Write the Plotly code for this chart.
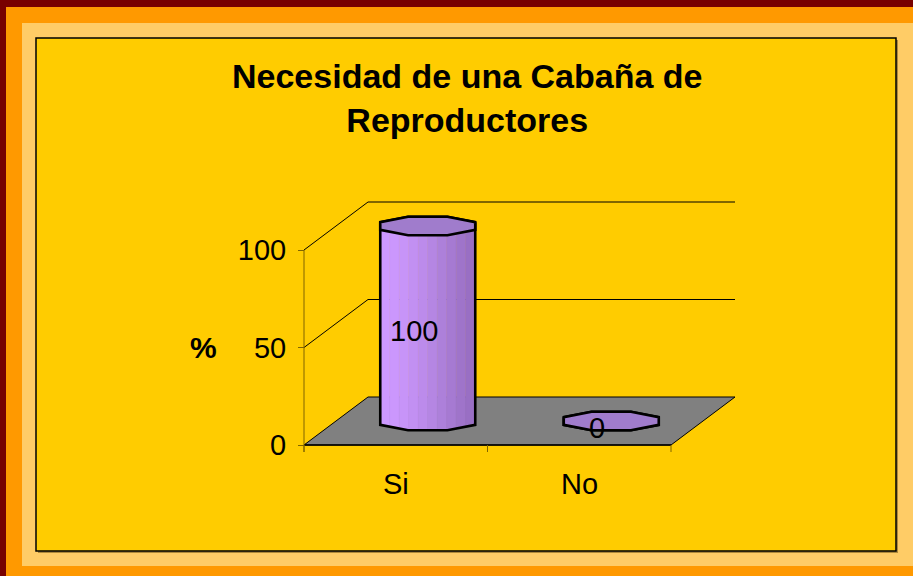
import numpy as np
import plotly.graph_objects as go

# ---------------- data ----------------
categories = ["Si", "No"]
values = [100, 0]
y_ticks = [0, 50, 100]
y_tick_labels = ["0", "50", "100"]
grid_values = [50, 100]
title_lines = ["Necesidad de una Cabaña de", "Reproductores"]
y_title = "%"

# ---------------- geometry / style ----------------
W, H = 913, 576
X0_PX, Y0_PX = 304, 445          # pixel of (0, 0) on the front plane
PX_PER_CAT = 183.5               # pixels per category unit
PX_PER_VAL = 1.95                # pixels per value unit
X_RANGE = [-X0_PX / PX_PER_CAT, (W - X0_PX) / PX_PER_CAT]
Y_RANGE = [-(H - Y0_PX) / PX_PER_VAL, Y0_PX / PX_PER_VAL]

DX = 64 / PX_PER_CAT             # oblique depth offset
DY = 48 / PX_PER_VAL
NCAT = len(categories)

BW = 47.5 / PX_PER_CAT           # cylinder half width
C225 = np.cos(np.radians(22.5))
CAP_A = BW / C225
CAP_B = 9.2 / C225 / PX_PER_VAL

FONT = "Arial, Liberation Sans, sans-serif"
AXIS_COL = "#806400"
FLOOR_COL = "#808080"
CAP_COL = "#A07CCC"
STRIP_COLS = [(205, 153, 255), (203, 151, 253), (199, 148, 248), (194, 144, 242),
              (188, 139, 235), (181, 134, 227), (173, 128, 218), (166, 122, 210),
              (159, 116, 202), (153, 111, 196)]

fig = go.Figure()


def poly(xs, ys, fill=None, line_col="black", width=1.0):
    fig.add_trace(go.Scatter(
        x=list(xs), y=list(ys), mode="lines",
        fill="toself" if fill else None, fillcolor=fill,
        line=dict(color=line_col, width=width),
        hoverinfo="skip", showlegend=False))


# floor
fx = [0, NCAT, NCAT + DX, DX, 0]
fy = [0, 0, DY, DY, 0]
poly(fx, fy, fill=FLOOR_COL, line_col="black", width=1)
poly([0, NCAT], [0, 0], line_col="black", width=1.6)

# back-wall gridlines
for g in grid_values:
    poly([0, DX, NCAT + DX], [g, g + DY, g + DY], line_col="black", width=1)

# y axis line
poly([0, 0], [max(y_ticks), -7 / PX_PER_VAL], line_col=AXIS_COL, width=1)
# x tick marks at category boundaries
for b in range(NCAT + 1):
    poly([b, b], [0, -7 / PX_PER_VAL], line_col=AXIS_COL, width=1)


def octagon(cx, cy, angles):
    th = np.radians(angles)
    return cx + CAP_A * np.cos(th), cy + CAP_B * np.sin(th)


# cylinders
for i, (cat, v) in enumerate(zip(categories, values)):
    cx = i + 0.5 + DX / 2
    yb = DY / 2
    yt = v + DY / 2
    fxb, fyb = octagon(cx, yb, [202.5, 247.5, 292.5, 337.5])
    edges = np.linspace(cx - BW, cx + BW, len(STRIP_COLS) + 1)
    for j, col in enumerate(STRIP_COLS):
        xl, xr = edges[j], edges[j + 1]
        inner = [x for x in fxb if xl < x < xr]
        bx = [xr] + sorted(inner, reverse=True) + [xl]
        by = [float(np.interp(x, fxb, fyb)) for x in bx]
        c = "rgb(%d,%d,%d)" % col
        poly([xl, xr] + bx + [xl], [yt, yt] + by + [yt], fill=c, line_col=c, width=0.6)
    tx1, ty1 = octagon(cx, yt, [157.5])
    bx2, by2 = octagon(cx, yb, [202.5, 247.5, 292.5, 337.5])
    tx3, ty3 = octagon(cx, yt, [22.5, 67.5, 112.5, 157.5])
    sx = list(tx1) + list(bx2) + list(tx3)
    sy = list(ty1) + list(by2) + list(ty3)
    poly(sx, sy, line_col="black", width=2.6)
    cxs, cys = octagon(cx, yt, [22.5 + 45 * k for k in range(9)])
    poly(cxs, cys, fill=CAP_COL, line_col="black", width=2.6)

annotations = []
for i, v in enumerate(values):
    annotations.append(dict(
        x=i + 0.5 + 0.28 * DX, y=v / 2 + 0.35 * DY, xref="x", yref="y",
        text=str(v), showarrow=False, font=dict(family=FONT, size=29, color="black"),
        xanchor="center", yanchor="middle"))
for i, cat in enumerate(categories):
    annotations.append(dict(
        x=i + 0.5, y=-39 / PX_PER_VAL, xref="x", yref="y", text=cat, showarrow=False,
        font=dict(family=FONT, size=29, color="black"), xanchor="center", yanchor="middle"))
annotations.append(dict(
    x=-101 / PX_PER_CAT, y=50, xref="x", yref="y", text="<b>%s</b>" % y_title,
    showarrow=False, font=dict(family=FONT, size=30, color="black"),
    xanchor="center", yanchor="middle"))
annotations.append(dict(
    x=468 / W, y=1 - 98 / H, xref="paper", yref="paper",
    text="<b>" + "<br>".join(title_lines) + "</b>", showarrow=False,
    font=dict(family=FONT, size=34, color="black"), xanchor="center", yanchor="middle",
    align="center"))


def prect(x0, y0, x1, y1, fill, line=None, lw=0):
    return dict(type="rect", xref="paper", yref="paper",
                x0=x0 / W, x1=x1 / W, y0=1 - y1 / H, y1=1 - y0 / H,
                fillcolor=fill, line=dict(color=line or fill, width=lw), layer="below")


shapes = [
    prect(6, 7, W + 5, H + 5, "#FF9900"),
    prect(22, 23, W + 5, 566, "#FFCC66"),
    prect(38, 40, 898, 553, "#B08A3A"),
    prect(36, 38, 896, 551, "#FFCC00", "black", 1.5),
]

fig.update_layout(
    width=W, height=H, autosize=False,
    margin=dict(l=0, r=0, t=0, b=0, pad=0),
    template="none",
    paper_bgcolor="#780000",
    plot_bgcolor="rgba(0,0,0,0)",
    showlegend=False,
    shapes=shapes,
    annotations=annotations,
    xaxis=dict(range=X_RANGE, visible=False, fixedrange=True, automargin=False),
    yaxis=dict(range=Y_RANGE, anchor="free", position=X0_PX / W,
               showgrid=False, zeroline=False, showline=False,
               tickmode="array", tickvals=y_ticks, ticktext=y_tick_labels,
               ticks="outside", ticklen=6, tickwidth=1, tickcolor=AXIS_COL,
               ticklabelstandoff=6,
               tickfont=dict(family=FONT, size=29, color="black"),
               fixedrange=True, automargin=False),
)

fig.write_html(
    "out.html",
    config={"displayModeBar": False, "staticPlot": True},
    post_script="document.body.style.margin='0';document.body.style.overflow='hidden';",
)
